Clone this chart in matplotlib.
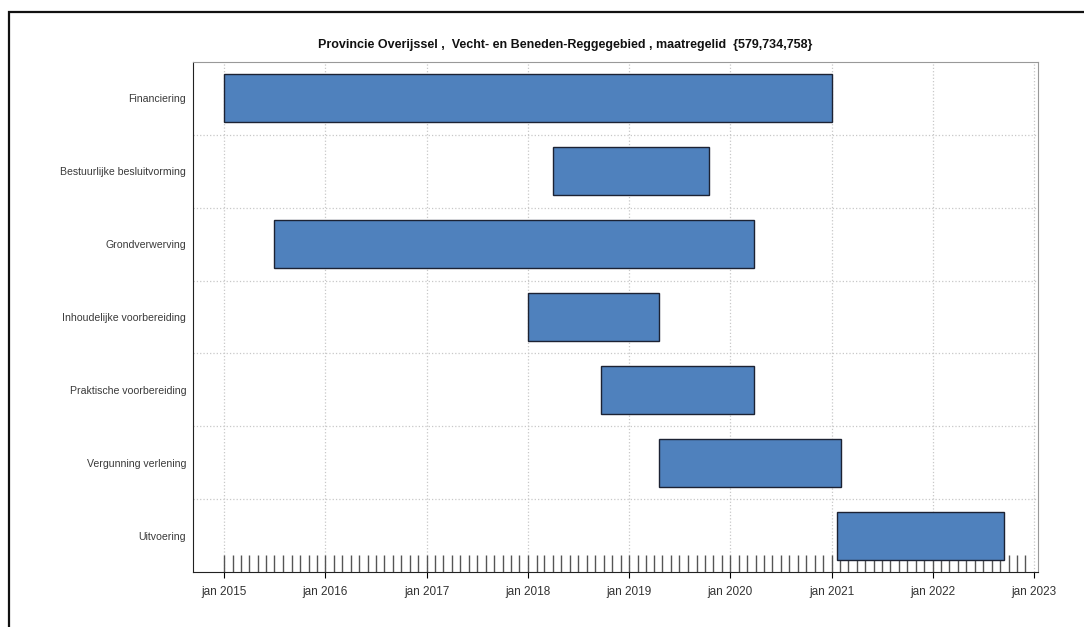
from datetime import date
import matplotlib
matplotlib.use("Agg")
import matplotlib.pyplot as plt
import matplotlib.dates as mdates
from matplotlib.patches import Rectangle

plt.rcParams['font.family'] = ['Liberation Sans', 'DejaVu Sans']

title = "Provincie Overijssel ,  Vecht- en Beneden-Reggegebied , maatregelid  {579,734,758}"

tasks = ["Financiering", "Bestuurlijke besluitvorming", "Grondverwerving",
         "Inhoudelijke voorbereiding", "Praktische voorbereiding",
         "Vergunning verlening", "Uitvoering"]
starts = [date(2015, 1, 1), date(2018, 4, 1), date(2015, 7, 1), date(2018, 1, 1),
          date(2018, 9, 20), date(2019, 4, 20), date(2021, 1, 20)]
ends = [date(2021, 1, 1), date(2019, 10, 15), date(2020, 3, 25), date(2019, 4, 20),
        date(2020, 3, 25), date(2021, 2, 5), date(2022, 9, 15)]
x_range = (date(2014, 9, 10), date(2023, 1, 15))
rug_months = [date(y, m, 1) for y in range(2015, 2023) for m in range(1, 13)]

bar_color = "#4F81BD"

fig = plt.figure(figsize=(10.84, 6.27), dpi=100)
ax = fig.add_axes([0.178, 0.0877, 0.7795, 0.8134])

s = mdates.date2num(starts)
e = mdates.date2num(ends)
ax.barh(range(len(tasks)), e - s, left=s, height=0.66, color=bar_color,
        edgecolor="#1c2233", linewidth=1.0, zorder=3)

ax.set_xlim(mdates.date2num(x_range[0]), mdates.date2num(x_range[1]))
ax.set_ylim(len(tasks) - 0.5, -0.5)
ax.set_yticks(range(len(tasks)))
ax.set_yticklabels(tasks, fontsize=7.6, color="#3a3a3a")
ax.set_yticks([i + 0.5 for i in range(len(tasks) - 1)], minor=True)
ax.tick_params(axis='y', which='both', length=0, pad=5)

ax.xaxis.remove_overlapping_locs = False
ax.xaxis.set_major_locator(mdates.YearLocator())
ax.xaxis.set_major_formatter(mdates.DateFormatter("jan %Y"))
ax.set_xticks(mdates.date2num(rug_months), minor=True)
ax.tick_params(axis='x', which='major', direction='out', length=4, labelsize=8.5,
               labelcolor="#333333", pad=6)
ax.tick_params(axis='x', which='minor', direction='in', length=12, width=1.0,
               color="#555555")

ax.grid(axis='x', which='major', linestyle=':', color="#c8c8c8", linewidth=0.9, zorder=0)
ax.grid(axis='y', which='minor', linestyle=':', color="#c8c8c8", linewidth=0.9, zorder=0)
ax.set_axisbelow(True)

for side in ['top', 'right']:
    ax.spines[side].set_color("#999999")
for side in ['left', 'bottom']:
    ax.spines[side].set_color("#222222")

fig.text(0.521, 0.929, title, ha='center', va='center', fontsize=9,
         fontweight='bold', color="#111111")

# figure frame (only top and left visible in the crop)
fig.patches.append(Rectangle((0.0085, -0.1), 1.2, 1.081, transform=fig.transFigure,
                             fill=False, edgecolor="#111111", linewidth=1.6))

fig.savefig("out.png", dpi=100)
